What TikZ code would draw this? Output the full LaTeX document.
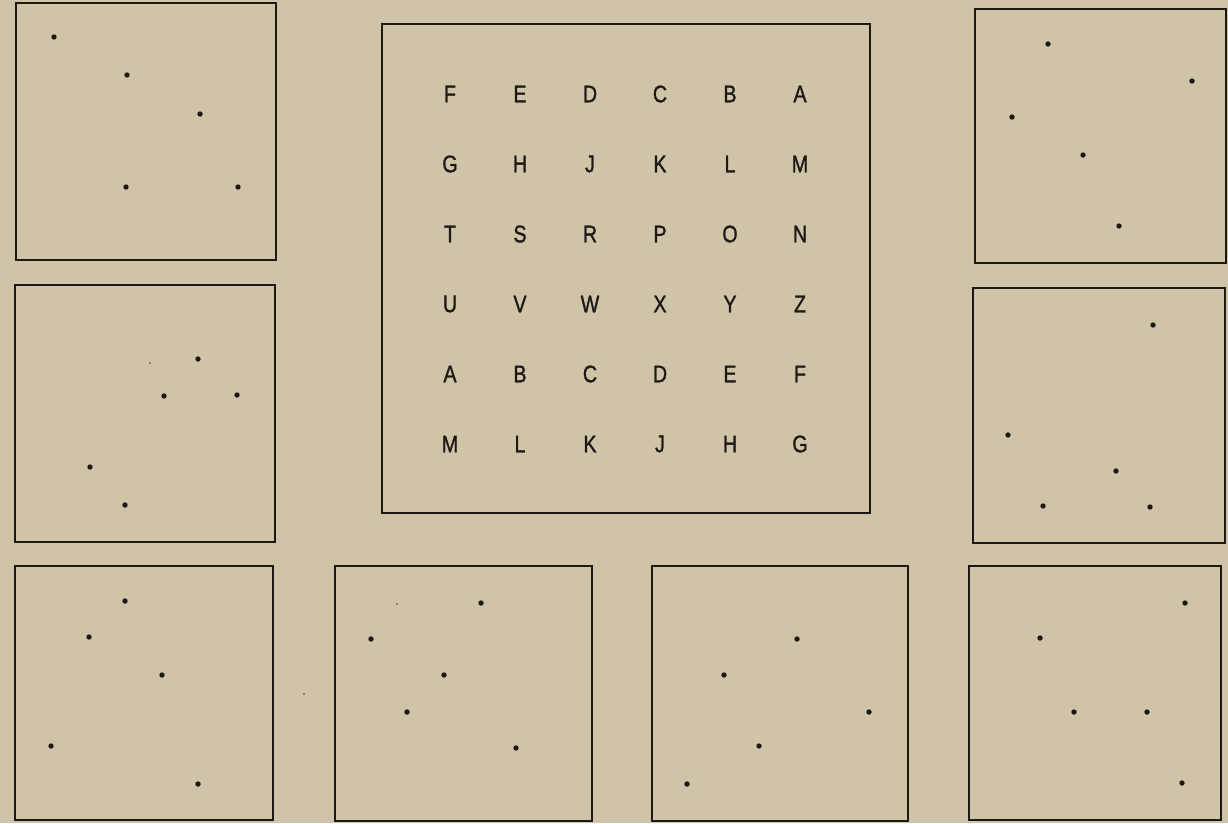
\documentclass[tikz,border=0pt]{standalone}
\usepackage{fontspec}
\setmainfont{Liberation Sans}
\newfontfamily\lettfont[FakeBold=1.3]{Liberation Sans}
\definecolor{paper}{RGB}{207,195,168}
\definecolor{ink}{RGB}{28,24,20}
\begin{document}
\begin{tikzpicture}[x=1pt,y=-1pt,
  frame/.style={draw=ink,line width=1.9pt},
  spot/.style={fill=ink},
  letter/.style={text=ink,inner sep=0pt,font=\lettfont\fontsize{24}{24}\selectfont}]
\fill[paper] (0,0) rectangle (1228,823);
\useasboundingbox (0,0) rectangle (1228,823);
% frames
\draw[frame] (16,3) rectangle (276,260);
\draw[frame] (15,285) rectangle (275,542);
\draw[frame] (382,24) rectangle (870,513);
\draw[frame] (975,9) rectangle (1226,263);
\draw[frame] (973,288) rectangle (1225,543);
\draw[frame] (15,566) rectangle (273,820);
\draw[frame] (335,566) rectangle (592,821);
\draw[frame] (652,566) rectangle (908,821);
\draw[frame] (969,566) rectangle (1221,820);
% letters
\foreach \row [count=\r from 0] in {{F,E,D,C,B,A},{G,H,J,K,L,M},{T,S,R,P,O,N},{U,V,W,X,Y,Z},{A,B,C,D,E,F},{M,L,K,J,H,G}}{
  \foreach \ch [count=\c from 0] in \row {
    \node[letter,xscale=0.82,transform shape] (L\r\c) at ({450+70*\c},{94+70*\r}) {\ch};
  }
}
% dots
\foreach \p in {(54,37),(127,75),(200,114),(126,187),(238,187),
  (198,359),(164,396),(237,395),(90,467),(125,505),
  (1048,44),(1192,81),(1012,117),(1083,155),(1119,226),
  (1153,325),(1008,435),(1116,471),(1043,506),(1150,507),
  (125,601),(89,637),(162,675),(51,746),(198,784),
  (481,603),(371,639),(444,675),(407,712),(516,748),
  (797,639),(724,675),(869,712),(759,746),(687,784),
  (1185,603),(1040,638),(1074,712),(1147,712),(1182,783)}
  \fill[spot] \p circle (2.7);
% specks
\foreach \p in {(150,363),(304,694),(397,604)}
  \fill[spot,opacity=0.6] \p circle (1.0);
\end{tikzpicture}
\end{document}
